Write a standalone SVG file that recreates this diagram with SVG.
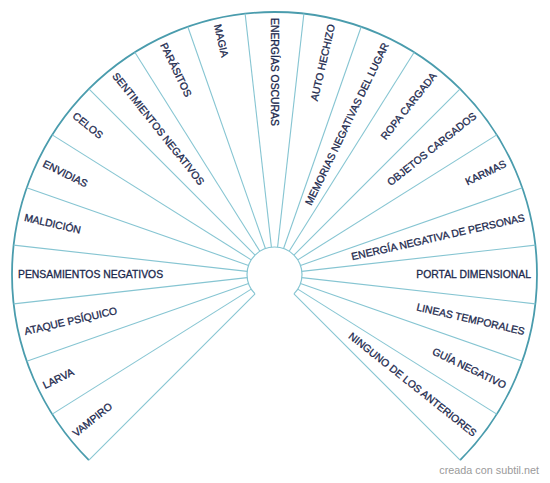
<svg xmlns="http://www.w3.org/2000/svg" width="550" height="483" viewBox="0 0 550 483">
<style>
.rad{stroke:#86c5d2;stroke-width:1.1;fill:none}
.outer{stroke:#4a9cad;stroke-width:1.8;fill:none}
.inner{stroke:#86c5d2;stroke-width:1.2;fill:none}
.lbl{font-family:"Liberation Sans",Arial,sans-serif;font-size:10.4px;fill:#1b284d;stroke:#1b284d;stroke-width:0.3px;dominant-baseline:central}
.l{text-anchor:start}
.r{text-anchor:end}
.wm{font-family:"Liberation Sans",Arial,sans-serif;font-size:10.8px;fill:#9a9a9a;text-anchor:end}
</style>
<rect width="550" height="483" fill="#ffffff"/>
<g id="connectors" transform="translate(274.5 274.5)">
<path class="outer" d="M -185.62 185.62 A 262.5 262.5 0 1 1 185.62 185.62"/>
<path class="inner" d="M -19.45 19.45 A 27.5 27.5 0 1 1 19.45 19.45"/>
<line class="rad" x1="27.5" x2="262.5" transform="rotate(135)"/>
<line class="rad" x1="27.5" x2="262.5" transform="rotate(147.857)"/>
<line class="rad" x1="27.5" x2="262.5" transform="rotate(160.714)"/>
<line class="rad" x1="27.5" x2="262.5" transform="rotate(173.571)"/>
<line class="rad" x1="27.5" x2="262.5" transform="rotate(186.429)"/>
<line class="rad" x1="27.5" x2="262.5" transform="rotate(199.286)"/>
<line class="rad" x1="27.5" x2="262.5" transform="rotate(212.143)"/>
<line class="rad" x1="27.5" x2="262.5" transform="rotate(225)"/>
<line class="rad" x1="27.5" x2="262.5" transform="rotate(237.857)"/>
<line class="rad" x1="27.5" x2="262.5" transform="rotate(250.714)"/>
<line class="rad" x1="27.5" x2="262.5" transform="rotate(263.571)"/>
<line class="rad" x1="27.5" x2="262.5" transform="rotate(276.429)"/>
<line class="rad" x1="27.5" x2="262.5" transform="rotate(289.286)"/>
<line class="rad" x1="27.5" x2="262.5" transform="rotate(302.143)"/>
<line class="rad" x1="27.5" x2="262.5" transform="rotate(315)"/>
<line class="rad" x1="27.5" x2="262.5" transform="rotate(327.857)"/>
<line class="rad" x1="27.5" x2="262.5" transform="rotate(340.714)"/>
<line class="rad" x1="27.5" x2="262.5" transform="rotate(353.571)"/>
<line class="rad" x1="27.5" x2="262.5" transform="rotate(6.429)"/>
<line class="rad" x1="27.5" x2="262.5" transform="rotate(19.286)"/>
<line class="rad" x1="27.5" x2="262.5" transform="rotate(32.143)"/>
<line class="rad" x1="27.5" x2="262.5" transform="rotate(45)"/>
</g>
<g transform="translate(274.5 274.5)">
<g id="n-vampiro"><text class="lbl l" x="-256.5" y="0" transform="rotate(-38.571)">VAMPIRO</text></g>
<g id="n-larva"><text class="lbl l" x="-256.5" y="0" transform="rotate(-25.714)">LARVA</text></g>
<g id="n-ataque"><text class="lbl l" x="-256.5" y="0" transform="rotate(-12.857)">ATAQUE PSÍQUICO</text></g>
<g id="n-pensamientos"><text class="lbl l" x="-256.5" y="0">PENSAMIENTOS NEGATIVOS</text></g>
<g id="n-maldicion"><text class="lbl l" x="-256.5" y="0" transform="rotate(12.857)">MALDICIÓN</text></g>
<g id="n-envidias"><text class="lbl l" x="-256.5" y="0" transform="rotate(25.714)">ENVIDIAS</text></g>
<g id="n-celos"><text class="lbl l" x="-256.5" y="0" transform="rotate(38.571)">CELOS</text></g>
<g id="n-sentimientos"><text class="lbl l" x="-256.5" y="0" transform="rotate(51.429)">SENTIMIENTOS NEGATIVOS</text></g>
<g id="n-parasitos"><text class="lbl l" x="-256.5" y="0" transform="rotate(64.286)">PARÁSITOS</text></g>
<g id="n-magia"><text class="lbl l" x="-256.5" y="0" transform="rotate(77.143)">MAGIA</text></g>
<g id="n-energias"><text class="lbl l" x="-256.5" y="0" transform="rotate(90)">ENERGÍAS OSCURAS</text></g>
<g id="n-auto"><text class="lbl r" x="256.5" y="0" transform="rotate(-77.143)">AUTO HECHIZO</text></g>
<g id="n-memorias"><text class="lbl r" x="256.5" y="0" transform="rotate(-64.286)">MEMORIAS NEGATIVAS DEL LUGAR</text></g>
<g id="n-ropa"><text class="lbl r" x="256.5" y="0" transform="rotate(-51.429)">ROPA CARGADA</text></g>
<g id="n-objetos"><text class="lbl r" x="256.5" y="0" transform="rotate(-38.571)">OBJETOS CARGADOS</text></g>
<g id="n-karmas"><text class="lbl r" x="256.5" y="0" transform="rotate(-25.714)">KARMAS</text></g>
<g id="n-energia-personas"><text class="lbl r" x="256.5" y="0" transform="rotate(-12.857)">ENERGÍA NEGATIVA DE PERSONAS</text></g>
<g id="n-portal"><text class="lbl r" x="256.5" y="0">PORTAL DIMENSIONAL</text></g>
<g id="n-lineas"><text class="lbl r" x="256.5" y="0" transform="rotate(12.857)">LINEAS TEMPORALES</text></g>
<g id="n-guia"><text class="lbl r" x="256.5" y="0" transform="rotate(25.714)">GUÍA NEGATIVO</text></g>
<g id="n-ninguno"><text class="lbl r" x="256.5" y="0" transform="rotate(38.571)">NINGUNO DE LOS ANTERIORES</text></g>
</g>
<text class="wm" x="539" y="474">creada con subtil.net</text>
</svg>
